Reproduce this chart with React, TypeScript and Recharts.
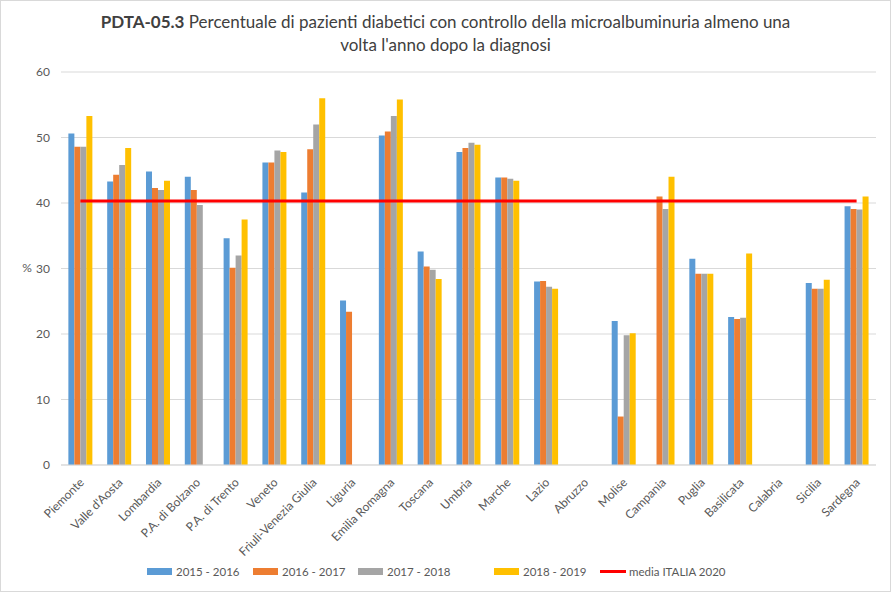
import React from "react";
import { ComposedChart, Bar, Line, XAxis, YAxis, CartesianGrid } from "recharts";

const regions = [
  "Piemonte", "Valle d'Aosta", "Lombardia", "P.A. di Bolzano", "P.A. di Trento", "Veneto",
  "Friuli-Venezia Giulia", "Liguria", "Emilia Romagna", "Toscana", "Umbria", "Marche",
  "Lazio", "Abruzzo", "Molise", "Campania", "Puglia", "Basilicata", "Calabria", "Sicilia", "Sardegna",
];

const s2015_2016 = [50.6, 43.3, 44.8, 44.0, 34.6, 46.2, 41.6, 25.1, 50.3, 32.6, 47.8, 43.9, 28.0, null, 22.0, null, 31.5, 22.6, null, 27.8, 39.5];
const s2016_2017 = [48.6, 44.3, 42.3, 42.0, 30.1, 46.2, 48.2, 23.4, 50.9, 30.3, 48.4, 43.9, 28.1, null, 7.4, 41.0, 29.2, 22.3, null, 26.9, 39.1];
const s2017_2018 = [48.6, 45.8, 42.0, 39.7, 32.0, 48.0, 52.0, null, 53.3, 29.8, 49.2, 43.7, 27.2, null, 19.8, 39.1, 29.2, 22.5, null, 26.9, 39.0];
const s2018_2019 = [53.3, 48.4, 43.4, null, 37.5, 47.8, 56.0, null, 55.8, 28.4, 48.9, 43.4, 26.9, null, 20.1, 44.0, 29.2, 32.3, null, 28.3, 41.0];
const mediaItalia2020 = 40.3;

const yTicks = [0, 10, 20, 30, 40, 50, 60];

const seriesNames = ["2015 - 2016", "2016 - 2017", "2017 - 2018", "2018 - 2019", "media ITALIA 2020"];
const seriesColors = ["#5B9BD5", "#ED7D31", "#A5A5A5", "#FFC000", "#FF0000"];

const data = regions.map((r, i) => ({
  region: r,
  a: s2015_2016[i],
  b: s2016_2017[i],
  c: s2017_2018[i],
  d: s2018_2019[i],
  m: mediaItalia2020,
}));

const FONT = "Lato, 'Liberation Sans', sans-serif";

const XTick = (props: any) => {
  const { x, y, payload } = props;
  return (
    <g transform={`translate(${x},${y + 6})`}>
      <text
        x={0}
        y={0}
        dy={6}
        textAnchor="end"
        transform="rotate(-45)"
        fontSize={12}
        fill="#595959"
        fontFamily={FONT}
      >
        {payload.value}
      </text>
    </g>
  );
};

const legendX = [147, 253, 358, 494, 600];

const LegendContent = () => (
  <svg width={891} height={20} style={{ position: "absolute", left: 0, top: 562 }}>
    {seriesNames.map((n, i) => (
      <g key={n}>
        {i < 4 ? (
          <rect x={legendX[i]} y={6} width={25} height={7} fill={seriesColors[i]} />
        ) : (
          <line x1={legendX[i]} x2={legendX[i] + 26} y1={9.5} y2={9.5} stroke={seriesColors[i]} strokeWidth={3} />
        )}
        <text x={legendX[i] + 29} y={14} fontSize={11.5} fill="#595959" fontFamily={FONT}>
          {n}
        </text>
      </g>
    ))}
  </svg>
);

export default function App() {
  return (
    <div
      style={{
        position: "absolute",
        left: 0,
        top: 0,
        width: 891,
        height: 592,
        background: "#fff",
        fontFamily: FONT,
      }}
    >
      <div
        style={{
          position: "absolute",
          left: 0,
          top: 0,
          width: 889,
          height: 590,
          border: "1px solid #d9d9d9",
        }}
      />
      <div
        style={{
          position: "absolute",
          left: 0,
          top: 10,
          width: 891,
          textAlign: "center",
          fontSize: 17,
          lineHeight: "23px",
          color: "#404040",
          fontFamily: FONT,
        }}
      >
        <b>PDTA-05.3</b> Percentuale di pazienti diabetici con controllo della microalbuminuria almeno una
        <br />
        volta l'anno dopo la diagnosi
      </div>
      <div style={{ position: "absolute", left: 0, top: 0 }}>
        <ComposedChart
          width={891}
          height={592}
          data={data}
          margin={{ top: 72, right: 15, bottom: 97, left: 0 }}
          barCategoryGap="19%"
          barGap={0}
        >
          <CartesianGrid vertical={false} stroke="#d9d9d9" strokeWidth={1} />
          <XAxis
            dataKey="region"
            interval={0}
            height={30}
            tick={<XTick />}
            tickLine={false}
            axisLine={{ stroke: "#d9d9d9" }}
          />
          <YAxis
            width={61}
            domain={[0, 60]}
            ticks={yTicks}
            interval={0}
            tickLine={false}
            axisLine={false}
            tickSize={0}
            tickMargin={11}
            tick={{ fontSize: 12, fill: "#595959", fontFamily: FONT }}
          />
          <Bar dataKey="a" fill={seriesColors[0]} isAnimationActive={false} />
          <Bar dataKey="b" fill={seriesColors[1]} isAnimationActive={false} />
          <Bar dataKey="c" fill={seriesColors[2]} isAnimationActive={false} />
          <Bar dataKey="d" fill={seriesColors[3]} isAnimationActive={false} />
          <Line
            dataKey="m"
            stroke={seriesColors[4]}
            strokeWidth={3}
            dot={false}
            activeDot={false}
            isAnimationActive={false}
          />
          <text x={27} y={272} fontSize={12} fill="#595959" fontFamily={FONT} textAnchor="middle">
            %
          </text>
        </ComposedChart>
      </div>
      <LegendContent />
    </div>
  );
}
